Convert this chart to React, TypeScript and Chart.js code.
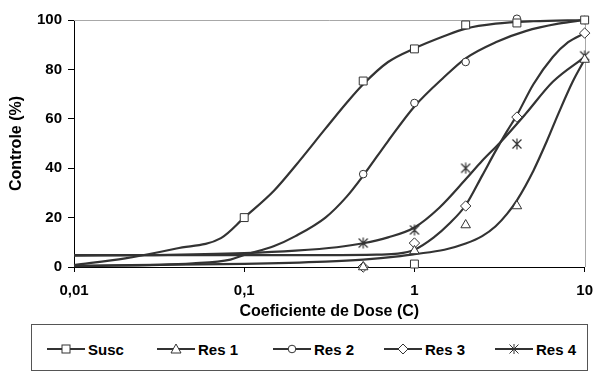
import React, { useEffect, useRef } from 'react';
import { Chart, registerables } from 'chart.js';

Chart.register(...registerables);

// ---- data ----
const seriesNames = ['Susc', 'Res 1', 'Res 2', 'Res 3', 'Res 4'];
const doses = [0.5, 1, 2, 4, 10];

const suscPtsX = [0.1, 0.5, 1, 2, 4, 10, 1];
const suscPtsY = [20, 75.3, 88.3, 98, 98.8, 100, 1.2];
const res1PtsY = [0, 6.5, 17, 24.7, 84];
const res2PtsY = [37.6, 66.4, 83, 100.5, 100];
const res3PtsY = [0, 9.7, 24.7, 60.7, 94.7];
const res4PtsY = [9.7, 15, 40, 49.8, 85.5];

// fitted curves
const suscFitX = [0.01, 0.02, 0.04, 0.073, 0.1, 0.15, 0.2, 0.3, 0.4, 0.5, 0.7, 1, 1.5, 2, 3, 5, 10];
const suscFitY = [0.8, 3.5, 7.5, 11.7, 20, 31, 41, 56, 66.5, 74, 83, 88.5, 93.5, 96.5, 98.5, 99.5, 100];
const res1FitX = [0.01, 0.1, 0.3, 0.5, 0.8, 1, 1.5, 2, 2.5, 3, 3.5, 4, 5, 6, 7, 8.5, 10];
const res1FitY = [0.5, 1.3, 2.2, 3, 4.3, 5.2, 7, 9.5, 12.5, 16.5, 21.5, 27, 39, 51, 62, 75, 84];
const res2FitX = [0.01, 0.05, 0.083, 0.1, 0.15, 0.2, 0.3, 0.4, 0.5, 0.7, 1, 1.5, 2, 3, 4.5, 7, 10];
const res2FitY = [0.3, 1.5, 3, 4.9, 8.5, 12.5, 20, 28.5, 37, 51, 65, 77, 84.5, 91, 95.5, 98.5, 100];
const res3FitX = [0.01, 0.3, 0.6, 0.8, 1, 1.3, 1.6, 2, 2.5, 3, 3.5, 4, 5, 6.5, 8, 10];
const res3FitY = [4.8, 4.8, 5, 5.4, 7, 12, 17.5, 25, 37, 47, 55, 61.5, 74, 85, 91, 94.7];
const res4FitX = [0.01, 0.03, 0.1, 0.2, 0.35, 0.5, 0.7, 1, 1.4, 2, 2.5, 3.2, 4.5, 6.5, 10];
const res4FitY = [4.6, 4.8, 5.6, 6.6, 8, 9.6, 12, 16, 24, 35.5, 43, 50.5, 62, 75, 85];

const xTicks = [0.01, 0.1, 1, 10];
const xTickLabels = ['0,01', '0,1', '1', '10'];
const yTicks = [0, 20, 40, 60, 80, 100];

const FONT = '"Liberation Sans", Arial, sans-serif';
const INK = '#333333';

function zip(xs: number[], ys: number[]) {
  return xs.map((x, i) => ({ x, y: ys[i] }));
}

function makeStar(): HTMLCanvasElement {
  const c = document.createElement('canvas');
  c.width = 12;
  c.height = 12;
  const g = c.getContext('2d')!;
  g.strokeStyle = INK;
  g.lineWidth = 1.2;
  g.beginPath();
  g.moveTo(6, 0.5); g.lineTo(6, 11.5);
  g.moveTo(1.5, 1.5); g.lineTo(10.5, 10.5);
  g.moveTo(10.5, 1.5); g.lineTo(1.5, 10.5);
  g.stroke();
  return c;
}

const framePlugin = {
  id: 'frame',
  beforeDatasetsDraw(chart: any) {
    const { ctx, chartArea: a } = chart;
    ctx.save();
    ctx.strokeStyle = '#a8a8a8';
    ctx.lineWidth = 1;
    ctx.beginPath();
    ctx.moveTo(a.left, Math.round(a.top) + 0.5);
    ctx.lineTo(Math.round(a.right) + 0.5, Math.round(a.top) + 0.5);
    ctx.lineTo(Math.round(a.right) + 0.5, a.bottom);
    ctx.stroke();
    ctx.restore();
  },
};

function LegendIcon({ kind }: { kind: string }) {
  const cx = 19, cy = 6;
  let marker: React.ReactNode = null;
  if (kind === 'square') marker = <rect x={cx - 4} y={cy - 4} width={8} height={8} fill="#fff" stroke={INK} strokeWidth={1} />;
  if (kind === 'triangle') marker = <polygon points={`${cx},${cy - 5} ${cx + 5},${cy + 4} ${cx - 5},${cy + 4}`} fill="#fff" stroke={INK} strokeWidth={1} />;
  if (kind === 'circle') marker = <circle cx={cx} cy={cy} r={3.8} fill="#fff" stroke={INK} strokeWidth={1} />;
  if (kind === 'diamond') marker = <polygon points={`${cx},${cy - 5} ${cx + 5},${cy} ${cx},${cy + 5} ${cx - 5},${cy}`} fill="#fff" stroke={INK} strokeWidth={1} />;
  if (kind === 'star') marker = (
    <path d={`M${cx} ${cy - 5}V${cy + 5}M${cx - 4.5} ${cy - 4.5}L${cx + 4.5} ${cy + 4.5}M${cx + 4.5} ${cy - 4.5}L${cx - 4.5} ${cy + 4.5}`} stroke={INK} strokeWidth={1} />
  );
  return (
    <svg width={38} height={12} style={{ display: 'block' }}>
      <line x1={0} y1={cy} x2={38} y2={cy} stroke={INK} strokeWidth={2} />
      {marker}
    </svg>
  );
}

const legendKinds = ['square', 'triangle', 'circle', 'diamond', 'star'];
const legendLeft = [47, 157, 273, 384, 495];

export default function App() {
  const ref = useRef<HTMLCanvasElement>(null);

  useEffect(() => {
    const star = makeStar();
    const pts = [
      zip(suscPtsX, suscPtsY),
      zip(doses, res1PtsY),
      zip(doses, res2PtsY),
      zip(doses, res3PtsY),
      zip(doses, res4PtsY),
    ];
    const fits = [
      zip(suscFitX, suscFitY),
      zip(res1FitX, res1FitY),
      zip(res2FitX, res2FitY),
      zip(res3FitX, res3FitY),
      zip(res4FitX, res4FitY),
    ];
    const styles: any[] = ['rect', 'triangle', 'circle', 'rectRot', star];
    const radii = [5.6, 5.5, 3.8, 5.2, 6];

    const datasets: any[] = [];
    seriesNames.forEach((name, i) => {
      datasets.push({
        type: 'scatter',
        label: name,
        data: pts[i],
        showLine: false,
        pointStyle: styles[i],
        pointRadius: radii[i],
        pointBackgroundColor: '#ffffff',
        pointBorderColor: INK,
        pointBorderWidth: 1,
        clip: false,
        order: 0,
      });
      datasets.push({
        type: 'line',
        label: name + ' fit',
        data: fits[i],
        borderColor: INK,
        borderWidth: 2.2,
        pointRadius: 0,
        cubicInterpolationMode: 'monotone',
        fill: false,
        clip: false,
        order: 1,
      });
    });

    const chart = new Chart(ref.current!, {
      type: 'scatter',
      data: { datasets },
      plugins: [framePlugin],
      options: {
        animation: false,
        responsive: false,
        maintainAspectRatio: false,
        events: [],
        layout: { padding: { left: 0, right: 9, top: 20, bottom: 0 } },
        plugins: { legend: { display: false }, tooltip: { enabled: false } },
        scales: {
          x: {
            type: 'logarithmic',
            min: 0.01,
            max: 10,
            afterBuildTicks: (s: any) => {
              s.ticks = xTicks.map((v) => ({ value: v }));
            },
            afterFit: (s: any) => {
              s.height = 56;
            },
            ticks: {
              autoSkip: false,
              maxRotation: 0,
              padding: 10,
              color: '#000',
              font: { family: FONT, size: 15, weight: 'bold' },
              callback: (_v: any, i: number) => xTickLabels[i],
            },
            grid: { display: true, drawOnChartArea: false, drawTicks: true, tickLength: 5, color: '#000' },
            border: { display: true, color: '#000', width: 1 },
            title: {
              display: true,
              text: 'Coeficiente de Dose (C)',
              color: '#000',
              font: { family: FONT, size: 16, weight: 'bold' },
              padding: { top: 0, bottom: 2 },
            },
          },
          y: {
            min: 0,
            max: 100,
            afterBuildTicks: (s: any) => {
              s.ticks = yTicks.map((v) => ({ value: v }));
            },
            afterFit: (s: any) => {
              s.width = 74;
            },
            ticks: {
              padding: 6,
              color: '#000',
              font: { family: FONT, size: 15, weight: 'bold' },
            },
            grid: { display: true, drawOnChartArea: false, drawTicks: true, tickLength: 6, color: '#000' },
            border: { display: true, color: '#000', width: 1 },
            title: {
              display: true,
              text: 'Controle (%)',
              color: '#000',
              font: { family: FONT, size: 16, weight: 'bold' },
              padding: { top: 7, bottom: 0 },
            },
          },
        },
      } as any,
    });
    return () => chart.destroy();
  }, []);

  return (
    <div style={{ position: 'fixed', left: 0, top: 0, width: 603, height: 374, background: '#fff', overflow: 'hidden' }}>
      <canvas ref={ref} width={603} height={323} style={{ position: 'absolute', left: 0, top: 0, width: 603, height: 323 }} />
      <div
        style={{
          position: 'absolute',
          left: 31,
          top: 324,
          width: 557,
          height: 47,
          border: '1px solid #555',
          boxSizing: 'border-box',
        }}
      />
      {seriesNames.map((name, i) => (
        <div
          key={name}
          style={{
            position: 'absolute',
            left: legendLeft[i],
            top: 340,
            height: 18,
            display: 'flex',
            alignItems: 'center',
            gap: 3,
            fontFamily: FONT,
            fontWeight: 'bold',
            fontSize: 15,
            color: '#000',
            whiteSpace: 'nowrap',
          }}
        >
          <LegendIcon kind={legendKinds[i]} />
          <span>{name}</span>
        </div>
      ))}
    </div>
  );
}
